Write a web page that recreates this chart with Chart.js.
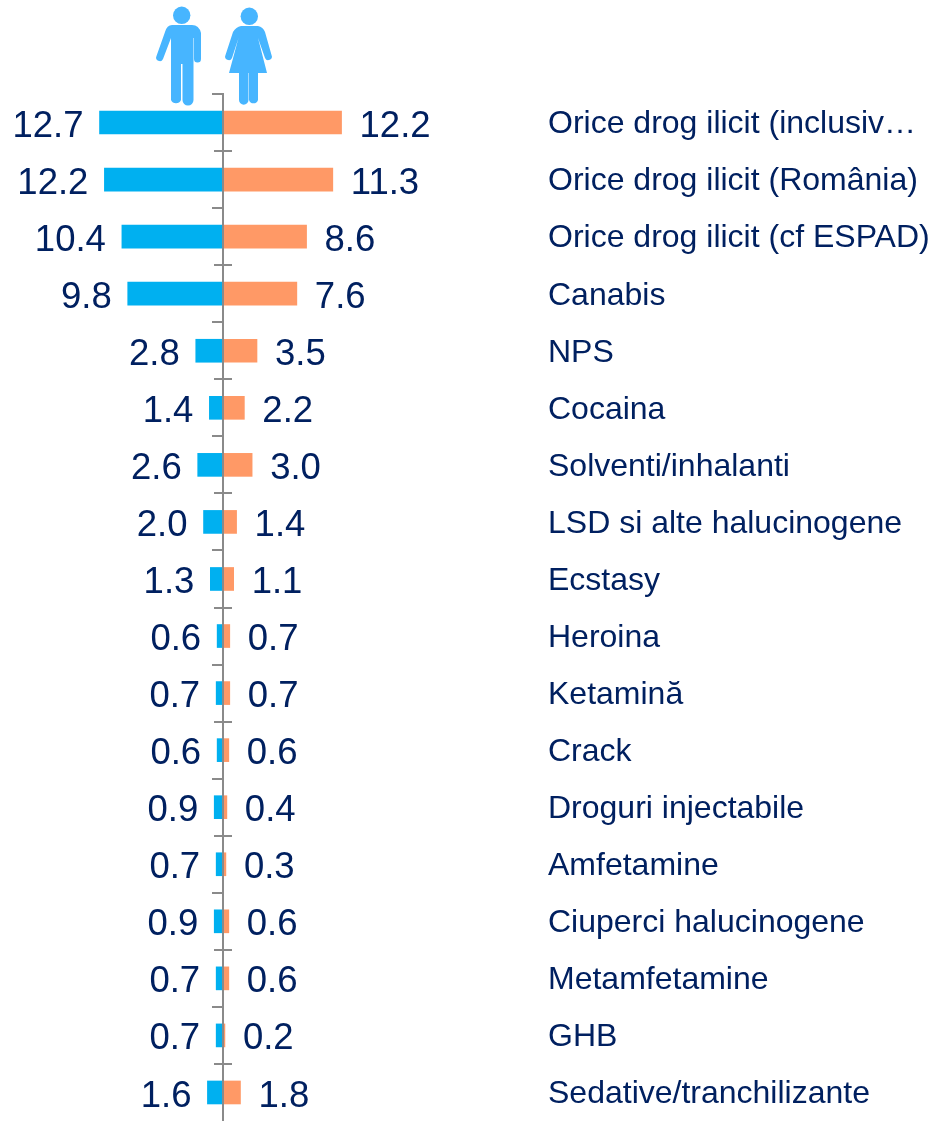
<!DOCTYPE html>
<html>
<head>
<meta charset="utf-8">
<style>
html,body{margin:0;padding:0;background:#fff;width:939px;height:1121px;overflow:hidden}
#wrap{position:relative;width:939px;height:1121px}
canvas{position:absolute;left:0;top:0}
svg{position:absolute;left:0;top:0}
</style>
<script src="https://cdn.jsdelivr.net/npm/chart.js@4"></script>
</head>
<body>
<div id="wrap">
<canvas id="c" width="939" height="1121"></canvas>
<svg width="939" height="110" viewBox="0 0 939 110" fill="#47B5FF" aria-hidden="true">
  <circle cx="181.7" cy="15.3" r="8.7"/>
  <path d="M172 25H192Q199 25 201 33V59a3.5 3.5 0 0 1-7 0V38H193.500V100a5.500 5.500 0 0 1-11 0V64H181V100a5.500 5.500 0 0 1-10 0V38L163 59a3.500 3.500 0 0 1-6.500-3L165 32Q167 25 172 25Z"/>
  <circle cx="249.3" cy="16.3" r="8.7"/>
  <path d="M241 26H258Q263 27 265 32L271.500 55a3.300 3.300 0 0 1-6.500 3L258 38L267 73H258V100a4.700 4.700 0 0 1-9 0V73H248.500V100a4.700 4.700 0 0 1-9.500 0V73H229L238.500 38L232 58a3.300 3.300 0 0 1-6.500-3L233 32Q236 27 241 26Z"/>
</svg>
</div>
<script>
const categories = ["Orice drog ilicit (inclusiv…","Orice drog ilicit (România)","Orice drog ilicit (cf ESPAD)","Canabis","NPS","Cocaina","Solventi/inhalanti","LSD si alte halucinogene","Ecstasy","Heroina","Ketamină","Crack","Droguri injectabile","Amfetamine","Ciuperci halucinogene","Metamfetamine","GHB","Sedative/tranchilizante"];
const menValues = [12.7,12.2,10.4,9.8,2.8,1.4,2.6,2.0,1.3,0.6,0.7,0.6,0.9,0.7,0.9,0.7,0.7,1.6];
const womenValues = [12.2,11.3,8.6,7.6,3.5,2.2,3.0,1.4,1.1,0.7,0.7,0.6,0.4,0.3,0.6,0.6,0.2,1.8];
const textColor = "#002060";
const axisColor = "#8A8A8A";

const overlay = {
  id: "overlay",
  afterDatasetsDraw(chart) {
    const {ctx, chartArea, scales: {x, y}} = chart;
    const x0 = Math.round(x.getPixelForValue(0));
    ctx.save();
    ctx.strokeStyle = axisColor;
    ctx.lineWidth = 2;
    ctx.beginPath();
    ctx.moveTo(x0, chartArea.top);
    ctx.lineTo(x0, chartArea.bottom);
    for (let i = 0; i < categories.length; i++) {
      const ty = Math.round(y.getPixelForValue(i - 0.5));
      if (i % 2 === 0) { ctx.moveTo(x0 - 11, ty); ctx.lineTo(x0 + 1, ty); }
      else { ctx.moveTo(x0 - 9, ty); ctx.lineTo(x0 + 9, ty); }
    }
    ctx.stroke();
    ctx.fillStyle = textColor;
    ctx.font = '36.5px "Liberation Sans"';
    ctx.textBaseline = "middle";
    categories.forEach((_, i) => {
      const py = y.getPixelForValue(i) + 4;
      ctx.textAlign = "right";
      ctx.fillText(menValues[i].toFixed(1), x.getPixelForValue(-menValues[i]) - 16, py);
      ctx.textAlign = "left";
      ctx.fillText(womenValues[i].toFixed(1), x.getPixelForValue(womenValues[i]) + 18, py);
    });
    ctx.restore();
  }
};

new Chart(document.getElementById("c"), {
  type: "bar",
  data: {
    labels: categories,
    datasets: [
      {label: "Bărbați", data: menValues.map(v => -v), backgroundColor: "#00B0F0", barThickness: 23},
      {label: "Femei", data: womenValues, backgroundColor: "#FF9966", barThickness: 23}
    ]
  },
  options: {
    indexAxis: "y",
    responsive: false,
    animation: false,
    layout: {padding: {top: 94, bottom: 0, left: 0, right: 0}},
    plugins: {legend: {display: false}, tooltip: {enabled: false}},
    scales: {
      x: {type: "linear", stacked: true, min: -22.94, max: 33.13, display: false},
      y: {
        stacked: true,
        position: "right",
        grid: {display: false, drawTicks: false},
        border: {display: false},
        afterFit(s) { s.width = 394; s.paddingTop = 0; s.paddingBottom = 0; },
        ticks: {
          color: textColor,
          autoSkip: false,
          crossAlign: "near",
          padding: 3,
          labelOffset: 2,
          font: {family: '"Liberation Sans"', size: 32}
        }
      }
    }
  },
  plugins: [overlay]
});
</script>
</body>
</html>
